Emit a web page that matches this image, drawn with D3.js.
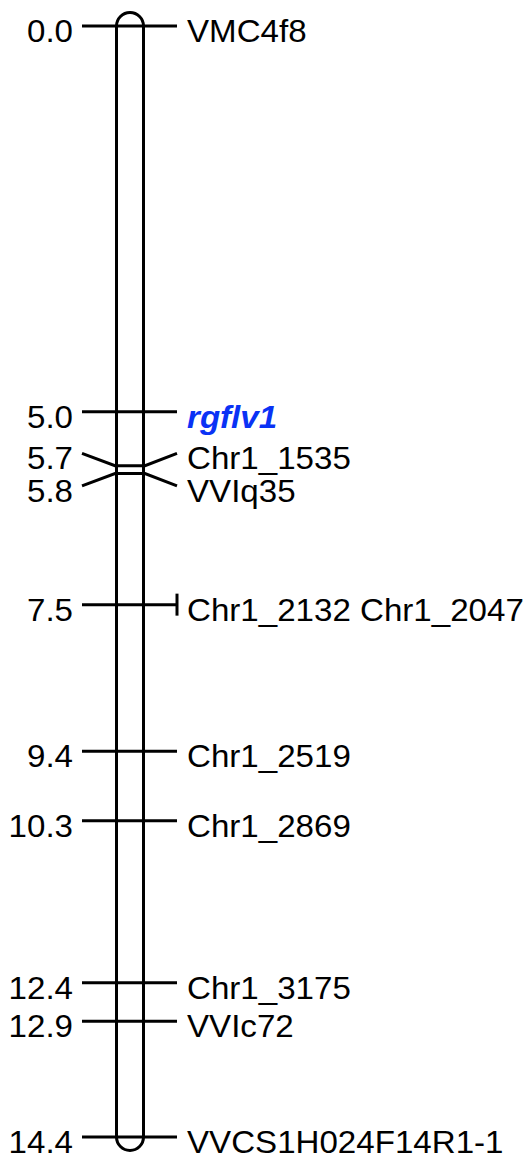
<!DOCTYPE html>
<html><head><meta charset="utf-8">
<script src="https://cdn.jsdelivr.net/npm/d3@7"></script>
<style>html,body{margin:0;padding:0;background:#fff;}svg{display:block;}</style>
</head><body>
<div id="chart"></div>
<script>
// Data
const positions = [0.0, 5.0, 5.7, 5.8, 7.5, 9.4, 10.3, 12.4, 12.9, 14.4];
const positionLabels = ["0.0", "5.0", "5.7", "5.8", "7.5", "9.4", "10.3", "12.4", "12.9", "14.4"];
const markers = [["VMC4f8"], ["rgflv1"], ["Chr1_1535"], ["VVIq35"], ["Chr1_2132", "Chr1_2047"],
                 ["Chr1_2519"], ["Chr1_2869"], ["Chr1_3175"], ["VVIc72"], ["VVCS1H024F14R1-1"]];
const highlighted = ["rgflv1"];

const W = 525, H = 1157;
const svg = d3.select("#chart").append("svg").attr("width", W).attr("height", H);

const y = d3.scaleLinear().domain([0, 14.4]).range([26, 1137]);

const barX = 116.5, barW = 27, r = barW / 2;
const tickL = 82, tickR = 177;
const fontSize = 32, minGap = 32.5, hScale = 1.035;

// label spreading
function spread(vals) {
  let clusters = vals.map((v, i) => ({ idx: [i], center: v }));
  let changed = true;
  while (changed) {
    changed = false;
    for (let i = 0; i < clusters.length - 1; i++) {
      const a = clusters[i], b = clusters[i + 1];
      const aBottom = a.center + (a.idx.length - 1) * minGap / 2;
      const bTop = b.center - (b.idx.length - 1) * minGap / 2;
      if (bTop - aBottom < minGap - 0.01) {
        const idx = a.idx.concat(b.idx);
        const center = d3.mean(idx, k => vals[k]);
        clusters.splice(i, 2, { idx, center });
        changed = true;
        break;
      }
    }
  }
  const out = [];
  clusters.forEach(c => {
    c.idx.forEach((k, j) => { out[k] = c.center + (j - (c.idx.length - 1) / 2) * minGap; });
  });
  return out;
}
const trueY = positions.map(p => y(p));
const labelY = spread(trueY);

// chromosome bar
svg.append("rect")
  .attr("x", barX).attr("y", y(0) - r)
  .attr("width", barW).attr("height", y(14.4) - y(0) + 2 * r)
  .attr("rx", r).attr("ry", r)
  .attr("fill", "none").attr("stroke", "#000").attr("stroke-width", 3);

// ticks
const g = svg.append("g");
positions.forEach((p, i) => {
  const ty = trueY[i], ly = labelY[i];
  const pts = [[tickL, ly], [barX - 1.5, ty], [barX + barW + 1.5, ty], [tickR, ly]];
  g.append("path")
    .attr("d", d3.line()(pts))
    .attr("fill", "none").attr("stroke", "#000").attr("stroke-width", 3);
  if (markers[i].length > 1) {
    g.append("line")
      .attr("x1", tickR).attr("x2", tickR)
      .attr("y1", ly - 11).attr("y2", ly + 11)
      .attr("stroke", "#000").attr("stroke-width", 3);
  }
  g.append("text")
    .attr("transform", `translate(73,${ly + 16}) scale(${hScale},1)`)
    .attr("text-anchor", "end")
    .attr("font-family", "Liberation Sans, Arial, sans-serif")
    .attr("font-size", fontSize)
    .attr("fill", "#000")
    .text(positionLabels[i]);
  const name = markers[i].join(" ");
  const hl = markers[i].some(m => highlighted.includes(m));
  g.append("text")
    .attr("transform", `translate(187,${ly + 16}) scale(${hScale},1)`)
    .attr("font-family", "Liberation Sans, Arial, sans-serif")
    .attr("font-size", fontSize)
    .attr("font-weight", hl ? "bold" : "normal")
    .attr("font-style", hl ? "italic" : "normal")
    .attr("fill", hl ? "#0a32f5" : "#000")
    .text(name);
});
</script>
</body></html>
